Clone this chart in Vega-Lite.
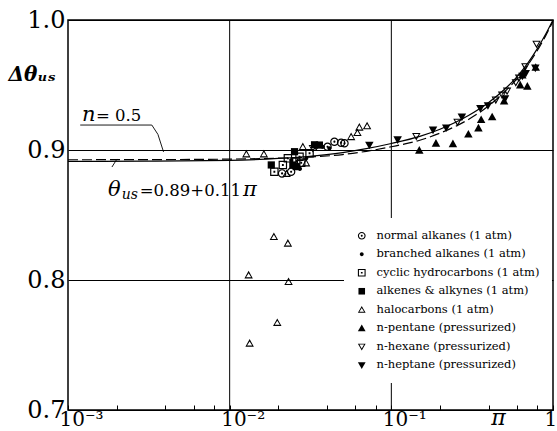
{
  "$schema": "https://vega.github.io/schema/vega-lite/v6.json",
  "width": 485,
  "height": 390,
  "autosize": {"type": "none"},
  "padding": {"left": 68, "top": 20, "right": 4, "bottom": 21},
  "background": "white",
  "config": {"view": {"stroke": "black", "strokeWidth": 1.5}, "font": "DejaVu Serif"},
  "datasets": {
    "pts": [
      {"s": "normal alkanes (1 atm)", "pi": 0.0211, "theta": 0.882},
      {"s": "normal alkanes (1 atm)", "pi": 0.0240, "theta": 0.8833},
      {"s": "normal alkanes (1 atm)", "pi": 0.0403, "theta": 0.9025},
      {"s": "normal alkanes (1 atm)", "pi": 0.04446, "theta": 0.9064},
      {"s": "normal alkanes (1 atm)", "pi": 0.0489, "theta": 0.9056},
      {"s": "normal alkanes (1 atm)", "pi": 0.0513, "theta": 0.9052},
      {"s": "branched alkanes (1 atm)", "pi": 0.02404, "theta": 0.8923},
      {"s": "branched alkanes (1 atm)", "pi": 0.02975, "theta": 0.8936},
      {"s": "branched alkanes (1 atm)", "pi": 0.03766, "theta": 0.9025},
      {"s": "branched alkanes (1 atm)", "pi": 0.0414, "theta": 0.9013},
      {"s": "branched alkanes (1 atm)", "pi": 0.0262, "theta": 0.888},
      {"s": "branched alkanes (1 atm)", "pi": 0.0272, "theta": 0.8855},
      {"s": "cyclic hydrocarbons (1 atm)", "pi": 0.0189, "theta": 0.8833},
      {"s": "cyclic hydrocarbons (1 atm)", "pi": 0.02133, "theta": 0.8885},
      {"s": "cyclic hydrocarbons (1 atm)", "pi": 0.02291, "theta": 0.8936},
      {"s": "cyclic hydrocarbons (1 atm)", "pi": 0.02705, "theta": 0.8948},
      {"s": "cyclic hydrocarbons (1 atm)", "pi": 0.0258, "theta": 0.891},
      {"s": "cyclic hydrocarbons (1 atm)", "pi": 0.0277, "theta": 0.8902},
      {"s": "cyclic hydrocarbons (1 atm)", "pi": 0.0312, "theta": 0.8975},
      {"s": "alkenes & alkynes (1 atm)", "pi": 0.01809, "theta": 0.8885},
      {"s": "alkenes & alkynes (1 atm)", "pi": 0.02519, "theta": 0.8987},
      {"s": "alkenes & alkynes (1 atm)", "pi": 0.0359, "theta": 0.9038},
      {"s": "alkenes & alkynes (1 atm)", "pi": 0.02459, "theta": 0.8885},
      {"s": "alkenes & alkynes (1 atm)", "pi": 0.0258, "theta": 0.8872},
      {"s": "alkenes & alkynes (1 atm)", "pi": 0.0335, "theta": 0.904},
      {"s": "halocarbons (1 atm)", "pi": 0.01877, "theta": 0.8333},
      {"s": "halocarbons (1 atm)", "pi": 0.02291, "theta": 0.8282},
      {"s": "halocarbons (1 atm)", "pi": 0.0131, "theta": 0.8038},
      {"s": "halocarbons (1 atm)", "pi": 0.02313, "theta": 0.7987},
      {"s": "halocarbons (1 atm)", "pi": 0.0197, "theta": 0.7672},
      {"s": "halocarbons (1 atm)", "pi": 0.01329, "theta": 0.7513},
      {"s": "halocarbons (1 atm)", "pi": 0.01268, "theta": 0.8969},
      {"s": "halocarbons (1 atm)", "pi": 0.01628, "theta": 0.8969},
      {"s": "halocarbons (1 atm)", "pi": 0.02835, "theta": 0.9025},
      {"s": "halocarbons (1 atm)", "pi": 0.0564, "theta": 0.9102},
      {"s": "halocarbons (1 atm)", "pi": 0.0634, "theta": 0.9175},
      {"s": "halocarbons (1 atm)", "pi": 0.0708, "theta": 0.9185},
      {"s": "halocarbons (1 atm)", "pi": 0.0617, "theta": 0.9133},
      {"s": "halocarbons (1 atm)", "pi": 0.0297, "theta": 0.89},
      {"s": "halocarbons (1 atm)", "pi": 0.0225, "theta": 0.8818},
      {"s": "n-pentane (pressurized)", "pi": 0.1489, "theta": 0.8998},
      {"s": "n-pentane (pressurized)", "pi": 0.1888, "theta": 0.9052},
      {"s": "n-pentane (pressurized)", "pi": 0.2404, "theta": 0.9048},
      {"s": "n-pentane (pressurized)", "pi": 0.2996, "theta": 0.9122},
      {"s": "n-pentane (pressurized)", "pi": 0.3458, "theta": 0.9169},
      {"s": "n-pentane (pressurized)", "pi": 0.3594, "theta": 0.9233},
      {"s": "n-pentane (pressurized)", "pi": 0.4203, "theta": 0.9254},
      {"s": "n-pentane (pressurized)", "pi": 0.4983, "theta": 0.9377},
      {"s": "n-pentane (pressurized)", "pi": 0.627, "theta": 0.95},
      {"s": "n-pentane (pressurized)", "pi": 0.694, "theta": 0.949},
      {"s": "n-pentane (pressurized)", "pi": 0.7819, "theta": 0.9635},
      {"s": "n-pentane (pressurized)", "pi": 0.6463, "theta": 0.9577},
      {"s": "n-hexane (pressurized)", "pi": 0.03268, "theta": 0.9013},
      {"s": "n-hexane (pressurized)", "pi": 0.0343, "theta": 0.9025},
      {"s": "n-hexane (pressurized)", "pi": 0.1427, "theta": 0.9105},
      {"s": "n-hexane (pressurized)", "pi": 0.2566, "theta": 0.9214},
      {"s": "n-hexane (pressurized)", "pi": 0.4428, "theta": 0.9385},
      {"s": "n-hexane (pressurized)", "pi": 0.4844, "theta": 0.9423},
      {"s": "n-hexane (pressurized)", "pi": 0.52, "theta": 0.9454},
      {"s": "n-hexane (pressurized)", "pi": 0.5886, "theta": 0.9519},
      {"s": "n-hexane (pressurized)", "pi": 0.6166, "theta": 0.9554},
      {"s": "n-hexane (pressurized)", "pi": 0.6745, "theta": 0.9641},
      {"s": "n-hexane (pressurized)", "pi": 0.7909, "theta": 0.9815},
      {"s": "n-heptane (pressurized)", "pi": 0.0731, "theta": 0.9038},
      {"s": "n-heptane (pressurized)", "pi": 0.1094, "theta": 0.9079},
      {"s": "n-heptane (pressurized)", "pi": 0.1811, "theta": 0.9154},
      {"s": "n-heptane (pressurized)", "pi": 0.2185, "theta": 0.9171},
      {"s": "n-heptane (pressurized)", "pi": 0.2731, "theta": 0.9254},
      {"s": "n-heptane (pressurized)", "pi": 0.3553, "theta": 0.9321},
      {"s": "n-heptane (pressurized)", "pi": 0.3959, "theta": 0.9342},
      {"s": "n-heptane (pressurized)", "pi": 0.505, "theta": 0.9395},
      {"s": "n-heptane (pressurized)", "pi": 0.6463, "theta": 0.9569},
      {"s": "n-heptane (pressurized)", "pi": 0.6785, "theta": 0.959},
      {"s": "n-heptane (pressurized)", "pi": 0.7775, "theta": 0.9631}
    ],
    "curves": [
      {"c": "solid", "pi": 0.001, "theta": 0.8912},
      {"c": "solid", "pi": 0.003, "theta": 0.8914},
      {"c": "solid", "pi": 0.01, "theta": 0.892},
      {"c": "solid", "pi": 0.02, "theta": 0.8935},
      {"c": "solid", "pi": 0.03, "theta": 0.895},
      {"c": "solid", "pi": 0.05, "theta": 0.898},
      {"c": "solid", "pi": 0.07, "theta": 0.901},
      {"c": "solid", "pi": 0.1, "theta": 0.905},
      {"c": "solid", "pi": 0.15, "theta": 0.9105},
      {"c": "solid", "pi": 0.2, "theta": 0.916},
      {"c": "solid", "pi": 0.3, "theta": 0.9265},
      {"c": "solid", "pi": 0.4, "theta": 0.9365},
      {"c": "solid", "pi": 0.5, "theta": 0.9465},
      {"c": "solid", "pi": 0.6, "theta": 0.9565},
      {"c": "solid", "pi": 0.7, "theta": 0.967},
      {"c": "solid", "pi": 0.8, "theta": 0.978},
      {"c": "solid", "pi": 0.9, "theta": 0.989},
      {"c": "solid", "pi": 1.0, "theta": 1.0},
      {"c": "dashed", "pi": 0.001, "theta": 0.8925},
      {"c": "dashed", "pi": 0.003, "theta": 0.8926},
      {"c": "dashed", "pi": 0.01, "theta": 0.893},
      {"c": "dashed", "pi": 0.02, "theta": 0.8937},
      {"c": "dashed", "pi": 0.03, "theta": 0.8945},
      {"c": "dashed", "pi": 0.05, "theta": 0.8965},
      {"c": "dashed", "pi": 0.07, "theta": 0.899},
      {"c": "dashed", "pi": 0.1, "theta": 0.9025},
      {"c": "dashed", "pi": 0.15, "theta": 0.9075},
      {"c": "dashed", "pi": 0.2, "theta": 0.913},
      {"c": "dashed", "pi": 0.3, "theta": 0.9235},
      {"c": "dashed", "pi": 0.4, "theta": 0.934},
      {"c": "dashed", "pi": 0.5, "theta": 0.9445},
      {"c": "dashed", "pi": 0.6, "theta": 0.955},
      {"c": "dashed", "pi": 0.7, "theta": 0.9655},
      {"c": "dashed", "pi": 0.8, "theta": 0.9765},
      {"c": "dashed", "pi": 0.9, "theta": 0.9878},
      {"c": "dashed", "pi": 1.0, "theta": 0.999}
    ],
    "leaders": [
      {"id": "u", "pi": 0.00119, "theta": 0.9192},
      {"id": "u", "pi": 0.0033, "theta": 0.9192},
      {"id": "n", "pi": 0.0033, "theta": 0.9192},
      {"id": "n", "pi": 0.0036, "theta": 0.912},
      {"id": "n", "pi": 0.0039, "theta": 0.8985},
      {"id": "t", "pi": 0.00187, "theta": 0.8869},
      {"id": "t", "pi": 0.00201, "theta": 0.8931}
    ],
    "gridx": [{"pi": 0.01}, {"pi": 0.1}],
    "italic": [
      {"t": "n", "pi": 0.00122, "theta": 0.9223},
      {"t": "θ", "pi": 0.001766, "theta": 0.8646},
      {"t": "π", "pi": 0.0121, "theta": 0.8646}
    ],
    "sub": [{"t": "us", "pi": 0.00215, "theta": 0.8623}],
    "upright": [
      {"t": "= 0.5", "pi": 0.00149, "theta": 0.9223},
      {"t": "=0.89+0.11", "pi": 0.00278, "theta": 0.8646}
    ]
  },
  "layer": [
    {
      "data": {"name": "pts"},
      "mark": {"type": "point", "filled": true, "color": "black", "strokeWidth": 0, "opacity": 1, "size": 72},
      "encoding": {
        "x": {
          "field": "pi", "type": "quantitative",
          "scale": {"type": "log", "domain": [0.001, 1], "nice": false},
          "axis": {
            "values": [0.001, 0.002, 0.004, 0.006, 0.008, 0.01, 0.02, 0.04, 0.06, 0.08, 0.1, 0.2, 0.4, 0.6, 0.8, 1],
            "labelExpr": "datum.value < 0.0015 ? '10⁻³' : (datum.value > 0.009 && datum.value < 0.011) ? '10⁻²' : (datum.value > 0.09 && datum.value < 0.11) ? '10⁻¹' : datum.value > 0.95 ? '1' : ''",
            "grid": false, "domain": false,
            "tickSize": -5, "tickColor": "black", "tickWidth": 1,
            "labelFont": "DejaVu Serif", "labelFontSize": 20, "labelColor": "black",
            "labelBaseline": "top", "labelPadding": 4, "labelAlign": "left", "labelOffset": -9,
            "labelFlush": false, "labelOverlap": false,
            "title": "π", "titleFont": "DejaVu Serif", "titleFontStyle": "italic", "titleFontWeight": "normal",
            "titleFontSize": 22, "titleColor": "black", "titleX": 430, "titleY": 14, "titleBaseline": "alphabetic", "titleAlign": "center"
          }
        },
        "y": {
          "field": "theta", "type": "quantitative",
          "scale": {"domain": [0.7, 1.0], "nice": false, "zero": false},
          "axis": {
            "values": [0.7, 0.8, 0.9, 1.0], "format": ".1f",
            "grid": true, "gridColor": "black", "gridWidth": 1, "gridOpacity": 1,
            "ticks": false, "domain": false,
            "labelFont": "DejaVu Serif", "labelFontSize": 24, "labelColor": "black", "labelPadding": 3, "labelFlush": false,
            "title": "Δθᵤₛ", "titleFont": "DejaVu Serif", "titleFontStyle": "italic", "titleFontWeight": "bold",
            "titleFontSize": 20, "titleColor": "black", "titleAngle": 0, "titleAlign": "left", "titleBaseline": "alphabetic",
            "titleX": -60, "titleY": 60
          }
        },
        "shape": {
          "field": "s", "type": "nominal",
          "scale": {
            "domain": ["normal alkanes (1 atm)", "branched alkanes (1 atm)", "cyclic hydrocarbons (1 atm)", "alkenes & alkynes (1 atm)", "halocarbons (1 atm)", "n-pentane (pressurized)", "n-hexane (pressurized)", "n-heptane (pressurized)"],
            "range": [
              "M-1,0A1,1,0,1,0,1,0A1,1,0,1,0,-1,0ZM-0.72,0A0.72,0.72,0,1,1,0.72,0A0.72,0.72,0,1,1,-0.72,0ZM-0.25,0A0.25,0.25,0,1,0,0.25,0A0.25,0.25,0,1,0,-0.25,0Z",
              "M-0.5,0A0.5,0.5,0,1,0,0.5,0A0.5,0.5,0,1,0,-0.5,0Z",
              "M-1,-1H1V1H-1ZM-0.72,-0.72V0.72H0.72V-0.72ZM-0.22,-0.22H0.22V0.22H-0.22Z",
              "M-0.85,-0.85H0.85V0.85H-0.85Z",
              "M0,-1L1,0.8L-1,0.8ZM0,-0.45L-0.6,0.52L0.6,0.52Z",
              "M0,-1L1,0.8L-1,0.8Z",
              "M-1,-0.8L1,-0.8L0,1ZM-0.6,-0.55L0,0.45L0.6,-0.55Z",
              "M-1,-0.8L1,-0.8L0,1Z"
            ]
          },
          "legend": {
            "orient": "none", "legendX": 276, "legendY": 198, "title": null,
            "fillColor": "white", "padding": 12,
            "labelFont": "DejaVu Serif", "labelFontSize": 11.5, "labelColor": "black", "labelLimit": 300,
            "labelOffset": 9, "rowPadding": 5.5,
            "symbolSize": 60, "symbolFillColor": "black", "symbolStrokeWidth": 0
          }
        }
      }
    },
    {
      "data": {"name": "gridx"},
      "mark": {"type": "rule", "color": "black", "strokeWidth": 1},
      "encoding": {
        "x": {"field": "pi", "type": "quantitative"}
      }
    },
    {
      "data": {"name": "curves"},
      "transform": [{"filter": "datum.c == 'solid'"}],
      "mark": {"type": "line", "color": "black", "strokeWidth": 1.2, "interpolate": "monotone"},
      "encoding": {
        "x": {"field": "pi", "type": "quantitative"},
        "y": {"field": "theta", "type": "quantitative"}
      }
    },
    {
      "data": {"name": "curves"},
      "transform": [{"filter": "datum.c == 'dashed'"}],
      "mark": {"type": "line", "color": "black", "strokeWidth": 1.2, "strokeDash": [10, 4], "interpolate": "monotone"},
      "encoding": {
        "x": {"field": "pi", "type": "quantitative"},
        "y": {"field": "theta", "type": "quantitative"}
      }
    },
    {
      "data": {"name": "leaders"},
      "mark": {"type": "line", "color": "black", "strokeWidth": 0.9},
      "encoding": {
        "x": {"field": "pi", "type": "quantitative"},
        "y": {"field": "theta", "type": "quantitative"},
        "detail": {"field": "id"}
      }
    },
    {
      "data": {"name": "italic"},
      "mark": {"type": "text", "font": "DejaVu Serif", "fontStyle": "italic", "fontSize": 21, "color": "black", "align": "left", "baseline": "alphabetic"},
      "encoding": {
        "x": {"field": "pi", "type": "quantitative"},
        "y": {"field": "theta", "type": "quantitative"},
        "text": {"field": "t"}
      }
    },
    {
      "data": {"name": "sub"},
      "mark": {"type": "text", "font": "DejaVu Serif", "fontStyle": "italic", "fontSize": 14, "color": "black", "align": "left", "baseline": "alphabetic"},
      "encoding": {
        "x": {"field": "pi", "type": "quantitative"},
        "y": {"field": "theta", "type": "quantitative"},
        "text": {"field": "t"}
      }
    },
    {
      "data": {"name": "upright"},
      "mark": {"type": "text", "font": "DejaVu Serif", "fontSize": 16.5, "color": "black", "align": "left", "baseline": "alphabetic"},
      "encoding": {
        "x": {"field": "pi", "type": "quantitative"},
        "y": {"field": "theta", "type": "quantitative"},
        "text": {"field": "t"}
      }
    }
  ]
}
